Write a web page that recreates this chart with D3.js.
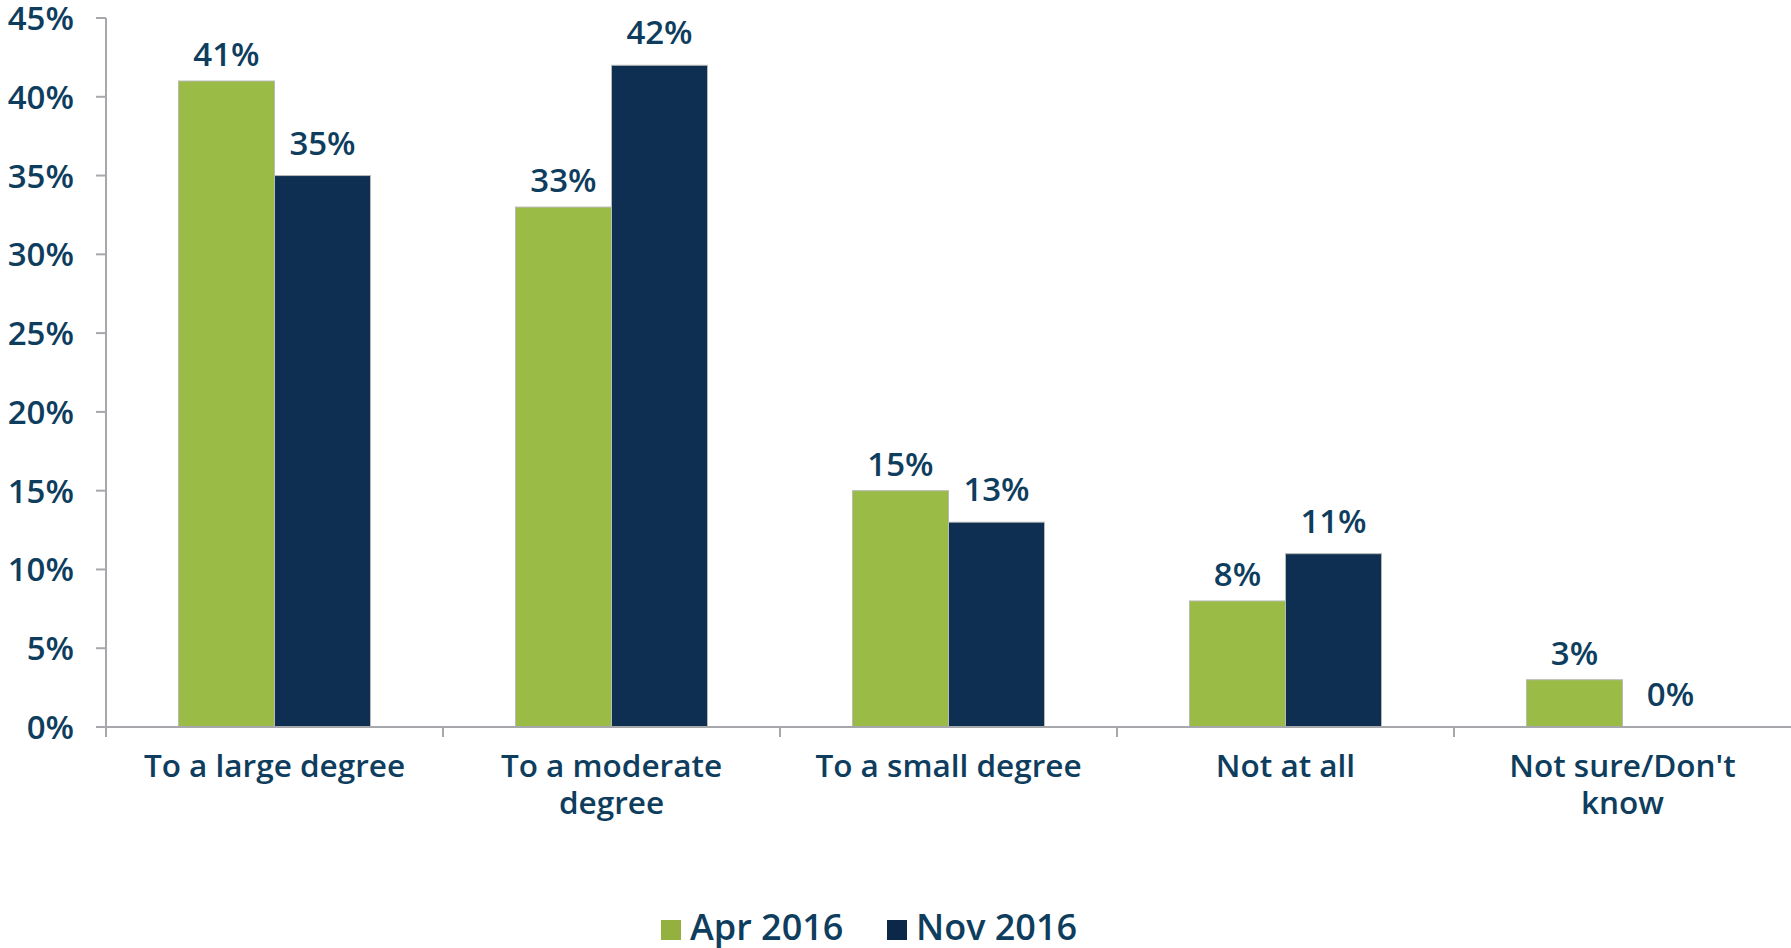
<!DOCTYPE html>
<html lang="en">
<head>
    <meta charset="UTF-8">
    <script src="https://d3js.org/d3.v7.min.js"></script>
    <title>Survey bars</title>
    <style>
        body { margin: 0; background: #fff; }
        text { font-family: "Open Sans", sans-serif; font-weight: 600; fill: #0E3D5E; }
        .axis-line { stroke: #A6A8AB; stroke-width: 2px; }
    </style>
</head>
<body>
    <div id="chart"></div>
    <script>
        // Data
        var categories = ["To a large degree", "To a moderate degree", "To a small degree", "Not at all", "Not sure/Don't know"];
        var seriesNames = ["Apr 2016", "Nov 2016"];
        var apr2016 = [41, 33, 15, 8, 3];
        var nov2016 = [35, 42, 13, 11, 0];
        var yTicks = [0, 5, 10, 15, 20, 25, 30, 35, 40, 45];
        var colors = ["#9BBB47", "#0E2F51"];

        var width = 1791, height = 948;
        var plotLeft = 106, plotRight = 1791, plotTop = 18, plotBottom = 727;
        var labelGap = [15, 21]; // label distance above bar, per series

        var svg = d3.select("#chart")
            .append("svg")
            .attr("width", width)
            .attr("height", height);

        // Scales
        var x = d3.scaleBand()
            .domain(categories)
            .range([plotLeft, plotRight]);

        var xInner = d3.scaleBand()
            .domain(seriesNames)
            .range([0, x.bandwidth()])
            .paddingOuter(0.755);

        var y = d3.scaleLinear()
            .domain([0, 45])
            .range([plotBottom, plotTop]);

        var rows = categories.map(function (c, i) {
            return { cat: c, values: [apr2016[i], nov2016[i]] };
        });

        // Bars
        var groups = svg.selectAll(".group")
            .data(rows)
            .enter().append("g")
            .attr("class", "group")
            .attr("transform", function (d) { return "translate(" + x(d.cat) + ",0)"; });

        groups.selectAll("rect")
            .data(function (d) { return d.values.map(function (v, j) { return { s: seriesNames[j], v: v, j: j }; }); })
            .enter().append("rect")
            .attr("x", function (d) { return xInner(d.s); })
            .attr("y", function (d) { return y(d.v); })
            .attr("width", xInner.bandwidth())
            .attr("height", function (d) { return plotBottom - y(d.v); })
            .attr("fill", function (d) { return colors[d.j]; })
            .attr("stroke", function (d) { return d.v > 0 ? "#B8BAB5" : "none"; })
            .attr("stroke-width", 1);

        // Value labels
        groups.selectAll(".val")
            .data(function (d) { return d.values.map(function (v, j) { return { s: seriesNames[j], v: v, j: j }; }); })
            .enter().append("text")
            .attr("class", "val")
            .attr("x", function (d) { return xInner(d.s) + xInner.bandwidth() / 2; })
            .attr("y", function (d) { return y(d.v) - labelGap[d.j]; })
            .attr("text-anchor", "middle")
            .style("font-size", "33px")
            .text(function (d) { return d.v + "%"; });

        // Y axis
        svg.append("line")
            .attr("class", "axis-line")
            .attr("x1", plotLeft).attr("x2", plotLeft)
            .attr("y1", y(45)).attr("y2", plotBottom);

        svg.selectAll(".ytick")
            .data(yTicks)
            .enter().append("line")
            .attr("class", "axis-line")
            .attr("x1", plotLeft - 10).attr("x2", plotLeft)
            .attr("y1", function (d) { return y(d); })
            .attr("y2", function (d) { return y(d); });

        svg.selectAll(".ylab")
            .data(yTicks)
            .enter().append("text")
            .attr("class", "ylab")
            .attr("x", plotLeft - 32)
            .attr("y", function (d) { return y(d) + 12; })
            .attr("text-anchor", "end")
            .style("font-size", "33px")
            .text(function (d) { return d + "%"; });

        // X axis
        svg.append("line")
            .attr("class", "axis-line")
            .attr("x1", plotLeft).attr("x2", plotRight)
            .attr("y1", plotBottom).attr("y2", plotBottom);

        svg.selectAll(".xtick")
            .data(categories)
            .enter().append("line")
            .attr("class", "axis-line")
            .attr("x1", function (d) { return x(d); })
            .attr("x2", function (d) { return x(d); })
            .attr("y1", plotBottom).attr("y2", plotBottom + 10);

        svg.selectAll(".xlab")
            .data(categories)
            .enter().append("text")
            .attr("class", "xlab")
            .attr("x", function (d) { return x(d) + x.bandwidth() / 2; })
            .attr("y", 777)
            .attr("text-anchor", "middle")
            .style("font-size", "31.5px")
            .text(function (d) { return d; })
            .call(wrap, 295);

        function wrap(sel, maxW) {
            sel.each(function () {
                var t = d3.select(this);
                var words = t.text().split(" ");
                var cx = t.attr("x");
                t.text(null);
                var line = [];
                var ts = t.append("tspan").attr("x", cx).attr("dy", 0);
                words.forEach(function (w) {
                    line.push(w);
                    ts.text(line.join(" "));
                    if (ts.node().getComputedTextLength() > maxW && line.length > 1) {
                        line.pop();
                        ts.text(line.join(" "));
                        line = [w];
                        ts = t.append("tspan").attr("x", cx).attr("dy", 37).text(w);
                    }
                });
            });
        }

        // Legend
        var legendX = [661, 887];
        var legend = svg.selectAll(".legend")
            .data(seriesNames)
            .enter().append("g")
            .attr("class", "legend")
            .attr("transform", function (d, i) { return "translate(" + legendX[i] + ",920)"; });

        legend.append("rect")
            .attr("width", 20).attr("height", 20)
            .attr("fill", function (d, i) { return i === 0 ? "#94B03E" : "#0B2848"; });

        legend.append("text")
            .attr("x", 29)
            .attr("y", 20)
            .style("font-size", "36px")
            .text(function (d) { return d; });
    </script>
</body>
</html>
